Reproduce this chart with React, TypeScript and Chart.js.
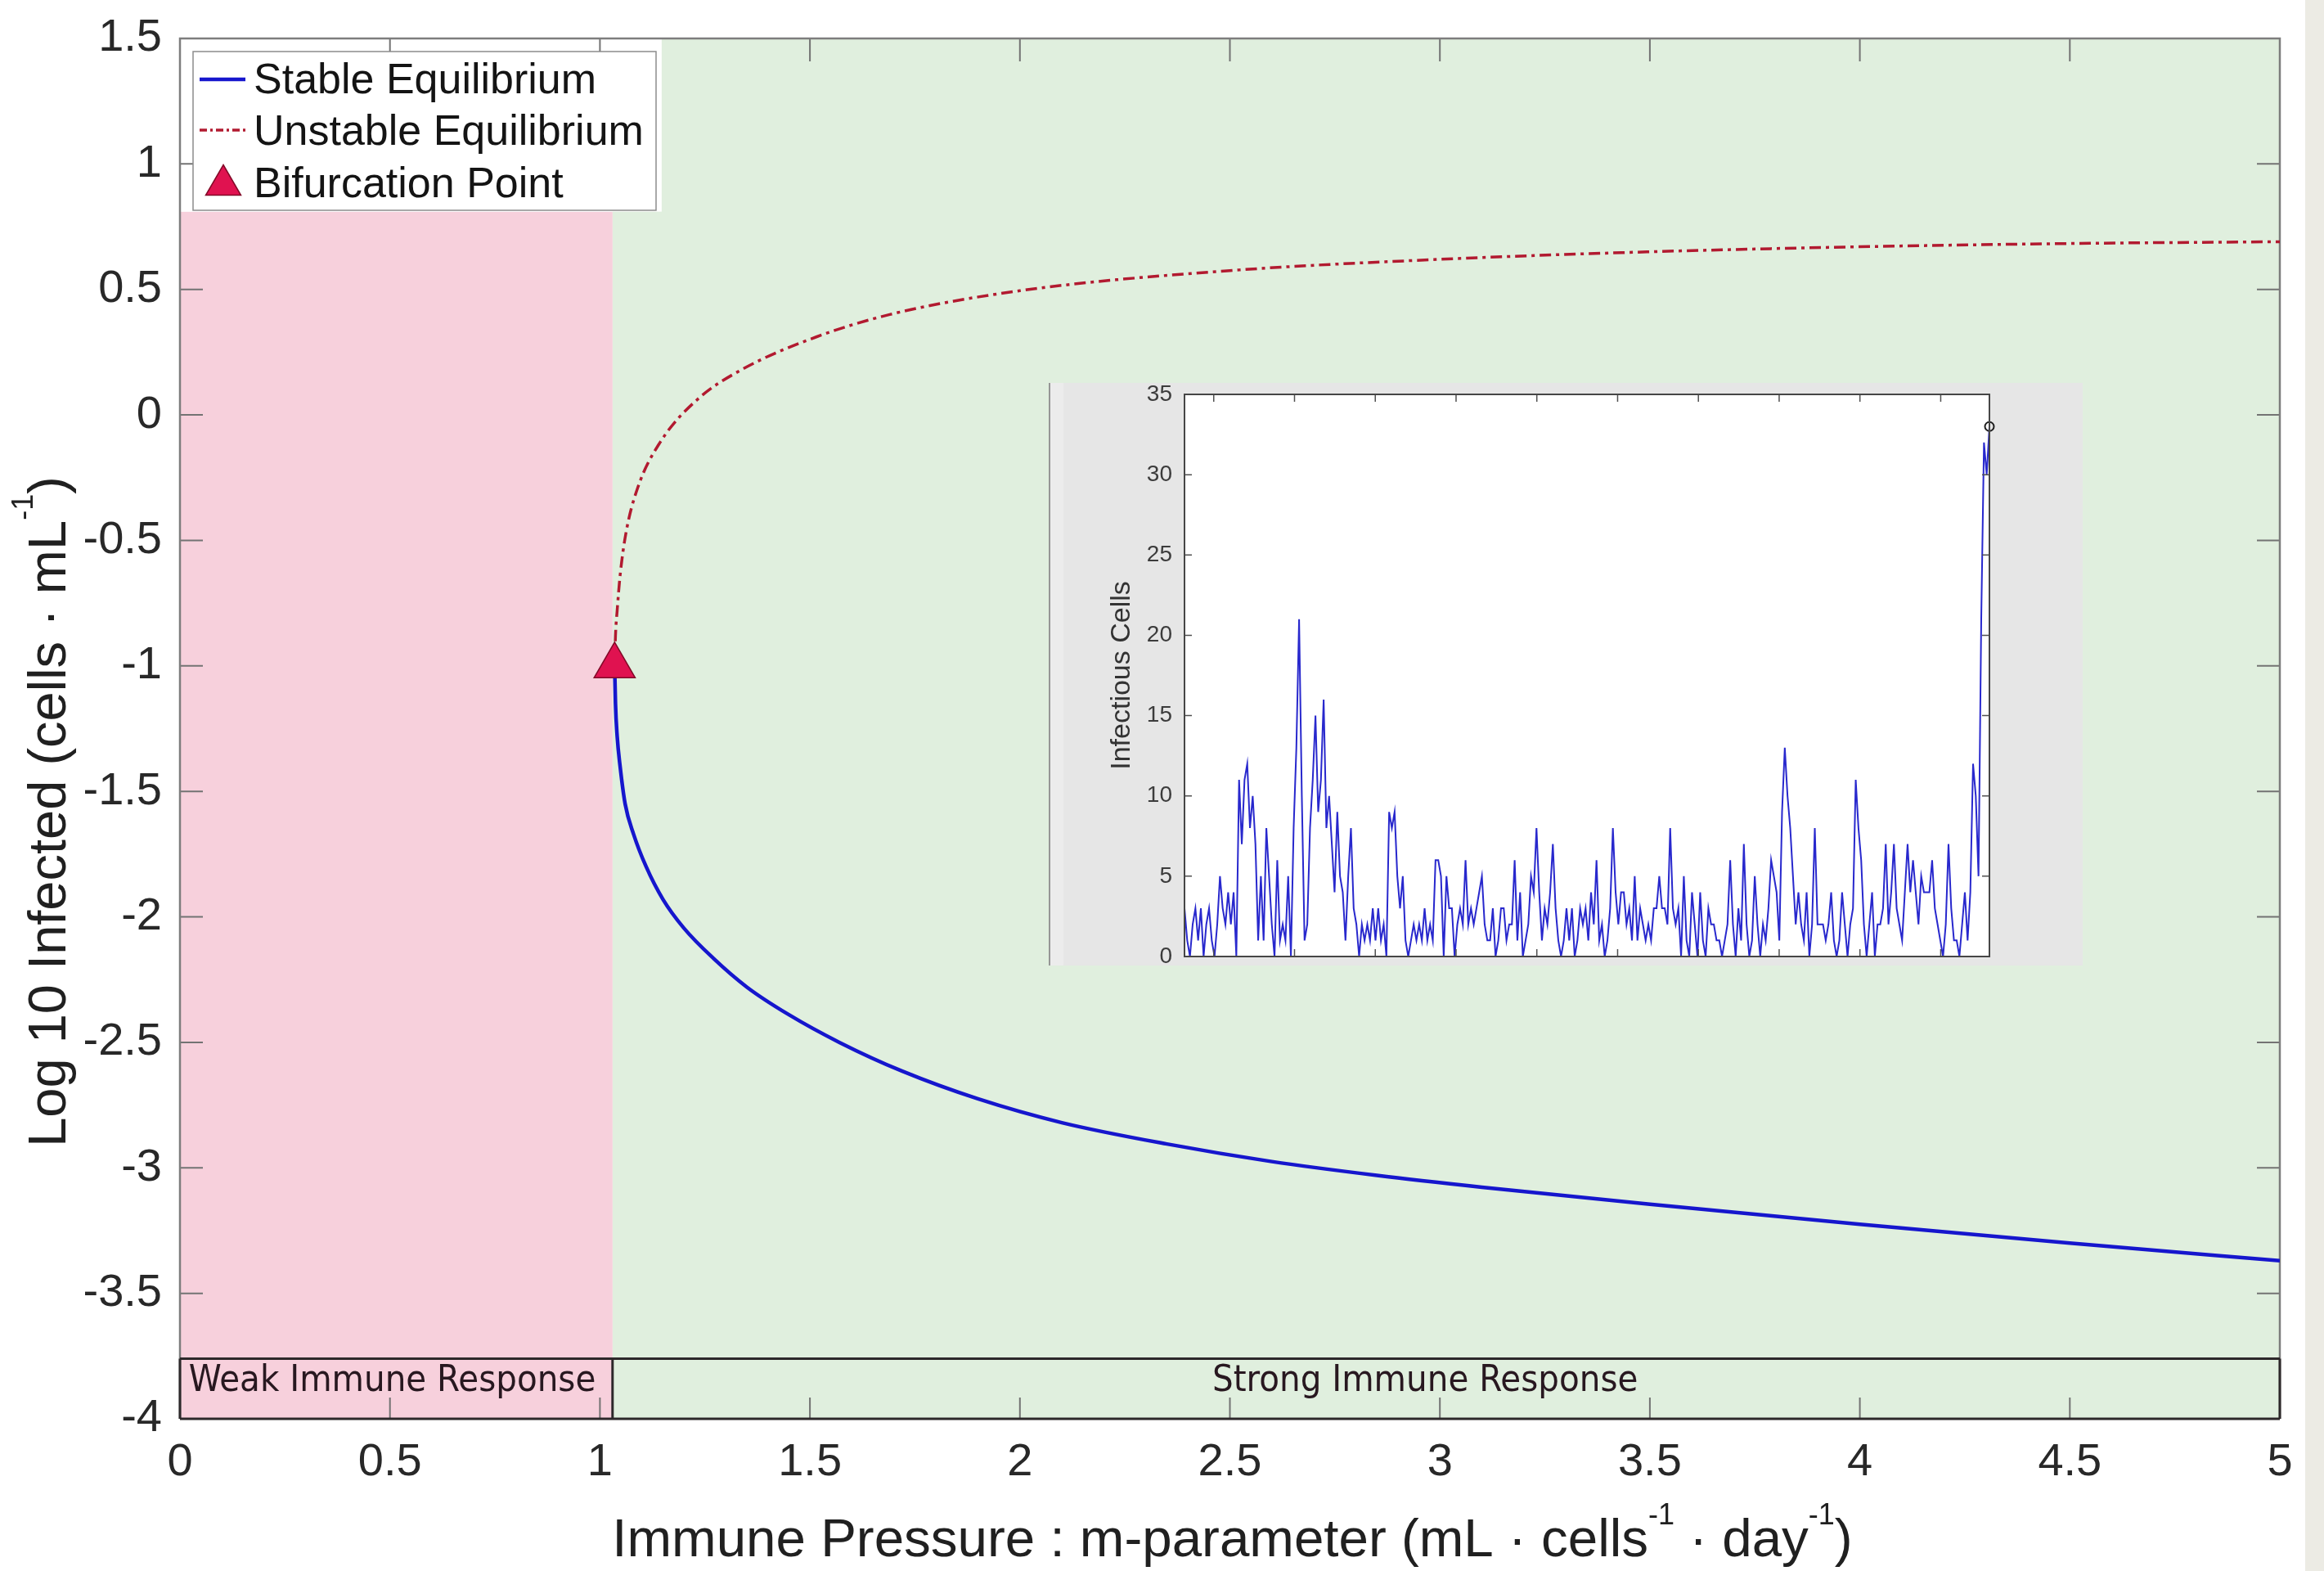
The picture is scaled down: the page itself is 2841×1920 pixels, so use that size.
import React, { useEffect, useRef } from 'react';
import { Chart, registerables } from 'chart.js';

Chart.register(...registerables);

// ---------------- main chart data ----------------
const X_TICKS = [0, 0.5, 1, 1.5, 2, 2.5, 3, 3.5, 4, 4.5, 5];
const Y_TICKS = [1.5, 1, 0.5, 0, -0.5, -1, -1.5, -2, -2.5, -3, -3.5, -4];

const STABLE_M = [1.035, 1.037, 1.041, 1.048, 1.06, 1.08, 1.11, 1.15, 1.2, 1.27, 1.35, 1.45, 1.57, 1.72, 1.9, 2.1, 2.35, 2.6, 2.85, 3.1, 3.5, 4.0, 4.5, 5.0];
const STABLE_LOG = [-1.0, -1.15, -1.28, -1.4, -1.55, -1.67, -1.8, -1.93, -2.045, -2.165, -2.28, -2.39, -2.5, -2.615, -2.725, -2.82, -2.905, -2.975, -3.03, -3.077, -3.145, -3.225, -3.3, -3.37];

const UNSTABLE_M = [1.035, 1.037, 1.041, 1.048, 1.062, 1.09, 1.143, 1.231, 1.337, 1.514, 1.69, 2.0, 2.5, 3.0, 3.5, 4.0, 4.5, 5.0];
const UNSTABLE_LOG = [-1.0, -0.88, -0.78, -0.64, -0.47, -0.29, -0.11, 0.06, 0.18, 0.31, 0.4, 0.495, 0.575, 0.62, 0.65, 0.67, 0.683, 0.69];

const BIFURCATION_M = [1.035];
const BIFURCATION_LOG = [-1.0];

const WEAK_END_M = 1.03;
const PINK_TOP_LOG = 0.81;
const LEGEND_CLEAR_M = 1.147;
const BAND_TOP_LOG = -3.76;
const REGION_LABELS = ['Weak Immune Response', 'Strong Immune Response'];
const REGION_LABEL_X = [0.021, 2.965];

// ---------------- inset data ----------------
const INSET_START_DAY = 63.8;
const INSET_DAY_STEP = 3.378;
const INSET_X_TICKS = [100, 200, 300, 400, 500, 600, 700, 800, 900, 1000];
const INSET_Y_TICKS = [0, 5, 10, 15, 20, 25, 30, 35];
const INSET_CELLS = [
  3, 1, 0, 2, 3, 1, 3, 0, 2, 3,
  1, 0, 2, 5, 3, 2, 4, 2, 4, 0,
  11, 7, 11, 12, 8, 10, 7, 1, 5, 1,
  8, 5, 2, 0, 6, 1, 2, 1, 5, 0,
  8, 13, 21, 10, 1, 2, 8, 11, 15, 9,
  11, 16, 8, 10, 7, 4, 9, 5, 4, 1,
  5, 8, 3, 2, 0, 2, 1, 2, 1, 3,
  1, 3, 1, 2, 0, 9,
  8, 9, 5, 3, 5, 1, 0, 1, 2, 1,
  2, 1, 3, 1, 2, 1, 6, 6, 5, 0,
  5, 3, 3, 0, 2, 3, 2, 6, 2, 3,
  2, 3, 4, 5, 2, 1, 1, 3, 0, 1,
  3, 3, 1, 2, 2, 6, 1, 4, 0, 1,
  2, 5, 4, 8, 4, 1, 3, 2, 4, 7,
  3, 1, 0, 1, 3, 1, 3, 0, 1, 3,
  2, 3, 1, 4, 2,
  6, 1, 2, 0, 1, 3, 8, 4, 2, 4,
  4, 2, 3, 1, 5, 1, 3, 2, 1, 2,
  1, 3, 3, 5, 3, 3, 2, 8, 3, 2,
  3, 0, 5, 1, 0, 4, 2, 0, 4, 1,
  0, 3, 2, 2, 1, 1, 0, 1, 2, 6,
  2, 0, 3, 1, 7, 2, 0, 1, 5, 2,
  0, 2, 1, 3, 6, 5, 4, 1, 9, 13,
  10, 8, 5, 2, 4,
  2, 1, 4, 0, 2, 8, 2, 2, 2, 1,
  2, 4, 1, 0, 1, 4, 2, 0, 2, 3,
  11, 8, 6, 2, 0, 2, 4, 0, 2, 2,
  3, 7, 2, 4, 7, 3, 2, 1, 4, 7,
  4, 6, 4, 2, 5, 4, 4, 4, 6, 3,
  2, 1, 0, 2, 7, 3, 1, 1, 0, 2,
  4, 1, 4, 12, 10, 5, 21, 32, 30, 33,
];

// ---------------- styles ----------------
const FONT = '"Liberation Sans", Arial, Helvetica, sans-serif';
const BAND_FONT = '"DejaVu Sans Condensed", "DejaVu Sans", sans-serif';
const PINK = 'rgb(247,208,220)';
const GREEN = 'rgb(224,239,222)';
const BLUE = 'rgb(22,22,205)';
const RED = 'rgb(178,26,48)';
const TRI_FILL = 'rgb(224,18,80)';
const TRI_EDGE = 'rgb(130,10,40)';
const TEXT = 'rgb(32,32,32)';

type Part = { t: string; sup?: boolean };

function drawRich(ctx: CanvasRenderingContext2D, parts: Part[], cx: number, baseY: number, size: number, supSize: number, rise: number) {
  const widths = parts.map((p) => {
    ctx.font = `${p.sup ? supSize : size}px ${FONT}`;
    return ctx.measureText(p.t).width;
  });
  const total = widths.reduce((a, b) => a + b, 0);
  let x = cx - total / 2;
  ctx.textAlign = 'left';
  ctx.textBaseline = 'alphabetic';
  parts.forEach((p, i) => {
    ctx.font = `${p.sup ? supSize : size}px ${FONT}`;
    ctx.fillText(p.t, x, p.sup ? baseY - rise : baseY);
    x += widths[i];
  });
}

function triangle(ctx: CanvasRenderingContext2D, cx: number, cy: number, w: number, h: number) {
  ctx.beginPath();
  ctx.moveTo(cx, cy - h / 2);
  ctx.lineTo(cx + w / 2, cy + h / 2);
  ctx.lineTo(cx - w / 2, cy + h / 2);
  ctx.closePath();
  ctx.fillStyle = TRI_FILL;
  ctx.fill();
  ctx.strokeStyle = TRI_EDGE;
  ctx.lineWidth = 1.5;
  ctx.stroke();
}

const mainDecor = {
  id: 'mainDecor',
  beforeDatasetsDraw(chart: any) {
    const { ctx, scales } = chart;
    const x = scales.x;
    const y = scales.y;
    const px = (v: number) => x.getPixelForValue(v);
    const py = (v: number) => y.getPixelForValue(v);
    ctx.save();
    // regions
    ctx.fillStyle = GREEN;
    ctx.fillRect(px(WEAK_END_M), py(1.5), px(5) - px(WEAK_END_M), py(-4) - py(1.5));
    ctx.fillStyle = PINK;
    ctx.fillRect(px(0), py(PINK_TOP_LOG), px(WEAK_END_M) - px(0), py(-4) - py(PINK_TOP_LOG));
    ctx.fillStyle = '#ffffff';
    ctx.fillRect(px(0), py(1.5), px(LEGEND_CLEAR_M) - px(0), py(PINK_TOP_LOG) - py(1.5));
    // inward ticks
    ctx.strokeStyle = 'rgb(115,115,115)';
    ctx.lineWidth = 2;
    ctx.beginPath();
    X_TICKS.forEach((v) => {
      ctx.moveTo(px(v), py(-4));
      ctx.lineTo(px(v), py(-4) - 26);
      ctx.moveTo(px(v), py(1.5));
      ctx.lineTo(px(v), py(1.5) + 28);
    });
    Y_TICKS.forEach((v) => {
      ctx.moveTo(px(0), py(v));
      ctx.lineTo(px(0) + 28, py(v));
      ctx.moveTo(px(5), py(v));
      ctx.lineTo(px(5) - 28, py(v));
    });
    ctx.stroke();
    // box
    ctx.strokeStyle = 'rgb(125,125,125)';
    ctx.lineWidth = 2.5;
    ctx.beginPath();
    ctx.moveTo(px(0), py(-4));
    ctx.lineTo(px(0), py(1.5));
    ctx.lineTo(px(5), py(1.5));
    ctx.lineTo(px(5), py(-4));
    ctx.stroke();
    // tick labels
    ctx.fillStyle = 'rgb(40,40,40)';
    ctx.font = `56px ${FONT}`;
    ctx.textAlign = 'center';
    ctx.textBaseline = 'middle';
    X_TICKS.forEach((v) => ctx.fillText(String(v), px(v), py(-4) + 54));
    ctx.textAlign = 'right';
    Y_TICKS.forEach((v) => ctx.fillText(String(v), px(0) - 22, py(v)));
    ctx.restore();
  },
  afterDraw(chart: any) {
    const { ctx, scales, chartArea } = chart;
    const x = scales.x;
    const y = scales.y;
    const px = (v: number) => x.getPixelForValue(v);
    const py = (v: number) => y.getPixelForValue(v);
    ctx.save();
    // region band
    ctx.strokeStyle = 'rgb(45,40,42)';
    ctx.lineWidth = 3;
    ctx.beginPath();
    ctx.moveTo(px(0), py(BAND_TOP_LOG));
    ctx.lineTo(px(5), py(BAND_TOP_LOG));
    ctx.moveTo(px(0), py(-4));
    ctx.lineTo(px(5), py(-4));
    ctx.moveTo(px(0), py(-4));
    ctx.lineTo(px(0), py(BAND_TOP_LOG));
    ctx.moveTo(px(WEAK_END_M), py(-4));
    ctx.lineTo(px(WEAK_END_M), py(BAND_TOP_LOG));
    ctx.moveTo(px(5), py(-4));
    ctx.lineTo(px(5), py(BAND_TOP_LOG));
    ctx.stroke();
    ctx.fillStyle = 'rgb(40,24,32)';
    ctx.font = `45px ${BAND_FONT}`;
    ctx.textBaseline = 'alphabetic';
    ctx.textAlign = 'left';
    ctx.fillText(REGION_LABELS[0], px(REGION_LABEL_X[0]), py(BAND_TOP_LOG) + 40);
    ctx.textAlign = 'center';
    ctx.fillText(REGION_LABELS[1], px(REGION_LABEL_X[1]), py(BAND_TOP_LOG) + 40);

    // legend
    const lx = chartArea.left + 16;
    const ly = chartArea.top + 16;
    ctx.fillStyle = '#ffffff';
    ctx.fillRect(lx, ly, 566, 194);
    ctx.strokeStyle = 'rgb(140,140,140)';
    ctx.lineWidth = 1.5;
    ctx.strokeRect(lx, ly, 566, 194);
    ctx.lineWidth = 4.5;
    ctx.strokeStyle = BLUE;
    ctx.beginPath();
    ctx.moveTo(lx + 8, ly + 34);
    ctx.lineTo(lx + 64, ly + 34);
    ctx.stroke();
    ctx.lineWidth = 3.5;
    ctx.strokeStyle = RED;
    ctx.setLineDash([9, 4, 3, 4]);
    ctx.beginPath();
    ctx.moveTo(lx + 8, ly + 96);
    ctx.lineTo(lx + 64, ly + 96);
    ctx.stroke();
    ctx.setLineDash([]);
    triangle(ctx, lx + 37, ly + 157, 43, 37);
    ctx.fillStyle = 'rgb(20,20,20)';
    ctx.font = `52px ${FONT}`;
    ctx.textAlign = 'left';
    ctx.textBaseline = 'alphabetic';
    ctx.fillText('Stable Equilibrium', lx + 74, ly + 51);
    ctx.fillText('Unstable Equilibrium', lx + 74, ly + 114);
    ctx.fillText('Bifurcation Point', lx + 74, ly + 178);

    // axis titles
    ctx.fillStyle = TEXT;
    drawRich(
      ctx,
      [
        { t: 'Immune Pressure : m-parameter (mL · cells' },
        { t: '-1', sup: true },
        { t: ' · day' },
        { t: '-1', sup: true },
        { t: ')' },
      ],
      (chartArea.left + chartArea.right) / 2 + 3,
      1902,
      65.5,
      36,
      39,
    );
    ctx.save();
    ctx.translate(80, 992);
    ctx.rotate(-Math.PI / 2);
    drawRich(ctx, [{ t: 'Log 10 Infected (cells · mL' }, { t: '-1', sup: true }, { t: ')' }], 0, 0, 65, 36, 40);
    ctx.restore();
    ctx.restore();
  },
};

const insetDecor = {
  id: 'insetDecor',
  beforeDraw(chart: any) {
    const { ctx, chartArea, width, height } = chart;
    ctx.save();
    ctx.fillStyle = 'rgb(230,230,230)';
    ctx.fillRect(0, 0, width, height);
    ctx.fillStyle = 'rgb(236,236,236)';
    ctx.fillRect(0, 0, 18, height);
    ctx.strokeStyle = 'rgb(150,150,150)';
    ctx.lineWidth = 2;
    ctx.beginPath();
    ctx.moveTo(1, 0);
    ctx.lineTo(1, height);
    ctx.stroke();
    ctx.fillStyle = '#ffffff';
    ctx.fillRect(chartArea.left, chartArea.top, chartArea.right - chartArea.left, chartArea.bottom - chartArea.top);
    // y tick labels
    const y = chart.scales.y;
    ctx.fillStyle = 'rgb(60,60,60)';
    ctx.font = `28px ${FONT}`;
    ctx.textAlign = 'right';
    ctx.textBaseline = 'middle';
    INSET_Y_TICKS.forEach((v) => ctx.fillText(String(v), chartArea.left - 15, y.getPixelForValue(v)));
    ctx.restore();
  },
  afterDatasetsDraw(chart: any) {
    const { ctx, scales, chartArea } = chart;
    const x = scales.x;
    const y = scales.y;
    ctx.save();
    ctx.strokeStyle = 'rgb(80,80,80)';
    ctx.lineWidth = 1.5;
    ctx.beginPath();
    INSET_X_TICKS.forEach((v) => {
      const p = x.getPixelForValue(v);
      ctx.moveTo(p, chartArea.top);
      ctx.lineTo(p, chartArea.top + 9);
      ctx.moveTo(p, chartArea.bottom);
      ctx.lineTo(p, chartArea.bottom - 9);
    });
    INSET_Y_TICKS.forEach((v) => {
      const p = y.getPixelForValue(v);
      ctx.moveTo(chartArea.left, p);
      ctx.lineTo(chartArea.left + 9, p);
      ctx.moveTo(chartArea.right, p);
      ctx.lineTo(chartArea.right - 9, p);
    });
    ctx.stroke();
    ctx.strokeStyle = 'rgb(70,70,70)';
    ctx.lineWidth = 2;
    ctx.strokeRect(chartArea.left, chartArea.top, chartArea.right - chartArea.left, chartArea.bottom - chartArea.top);
    // y title
    ctx.fillStyle = 'rgb(50,50,50)';
    ctx.font = `34px ${FONT}`;
    ctx.textAlign = 'center';
    ctx.textBaseline = 'middle';
    ctx.translate(90, (chartArea.top + chartArea.bottom) / 2);
    ctx.rotate(-Math.PI / 2);
    ctx.fillText('Infectious Cells', 0, 0);
    ctx.restore();
  },
};

export default function App() {
  const mainRef = useRef<HTMLCanvasElement | null>(null);
  const insetRef = useRef<HTMLCanvasElement | null>(null);

  useEffect(() => {
    if (!mainRef.current || !insetRef.current) return;

    const main = new Chart(mainRef.current, {
      type: 'line',
      data: {
        datasets: [
          {
            label: 'Bifurcation Point',
            data: BIFURCATION_M.map((m, i) => ({ x: m, y: BIFURCATION_LOG[i] })),
            showLine: false,
            pointStyle: 'triangle',
            pointRadius: 29,
            backgroundColor: TRI_FILL,
            borderColor: TRI_EDGE,
            borderWidth: 1.5,
          },
          {
            label: 'Stable Equilibrium',
            data: STABLE_M.map((m, i) => ({ x: m, y: STABLE_LOG[i] })),
            borderColor: BLUE,
            borderWidth: 4.5,
            pointRadius: 0,
            cubicInterpolationMode: 'monotone',
            fill: false,
          },
          {
            label: 'Unstable Equilibrium',
            data: UNSTABLE_M.map((m, i) => ({ x: m, y: UNSTABLE_LOG[i] })),
            borderColor: RED,
            borderWidth: 3.5,
            borderDash: [14, 6, 4, 6],
            pointRadius: 0,
            cubicInterpolationMode: 'monotone',
            fill: false,
          },
        ],
      } as any,
      options: {
        responsive: false,
        animation: false,
        events: [],
        layout: { padding: { top: 47, right: 54, left: 220, bottom: 186 } },
        plugins: { legend: { display: false }, tooltip: { enabled: false } },
        scales: {
          x: { type: 'linear', display: false, min: 0, max: 5 },
          y: { type: 'linear', display: false, min: -4, max: 1.5 },
        },
      } as any,
      plugins: [mainDecor],
    });

    const lastIndex = INSET_CELLS.length - 1;
    const inset = new Chart(insetRef.current, {
      type: 'line',
      data: {
        datasets: [
          {
            data: [{ x: INSET_START_DAY + lastIndex * INSET_DAY_STEP, y: INSET_CELLS[lastIndex] }],
            showLine: false,
            pointStyle: 'circle',
            pointRadius: 5.5,
            borderColor: 'rgb(30,30,30)',
            borderWidth: 2,
            backgroundColor: 'rgba(0,0,0,0)',
            clip: false,
          },
          {
            data: INSET_CELLS.map((v, i) => ({ x: INSET_START_DAY + i * INSET_DAY_STEP, y: v })),
            borderColor: 'rgb(40,40,205)',
            borderWidth: 2,
            pointRadius: 0,
            tension: 0,
            fill: false,
          },
        ],
      } as any,
      options: {
        responsive: false,
        animation: false,
        events: [],
        layout: { padding: { top: 14, right: 114, left: 166, bottom: 11 } },
        plugins: { legend: { display: false }, tooltip: { enabled: false } },
        scales: {
          x: {
            type: 'linear',
            display: false,
            min: INSET_START_DAY,
            max: INSET_START_DAY + lastIndex * INSET_DAY_STEP,
          },
          y: { type: 'linear', display: false, min: 0, max: 35 },
        },
      } as any,
      plugins: [insetDecor],
    });

    return () => {
      main.destroy();
      inset.destroy();
    };
  }, []);

  return (
    <div style={{ position: 'fixed', left: 0, top: 0, width: 2841, height: 1920, background: '#ffffff', overflow: 'hidden' }}>
      <canvas ref={mainRef} width={2841} height={1920} style={{ position: 'absolute', left: 0, top: 0, width: 2841, height: 1920 }} />
      <canvas ref={insetRef} width={1264} height={712} style={{ position: 'absolute', left: 1282, top: 468, width: 1264, height: 712 }} />
      <div style={{ position: 'absolute', left: 2818, top: 0, width: 23, height: 1920, background: 'rgb(236,235,228)' }} />
    </div>
  );
}
